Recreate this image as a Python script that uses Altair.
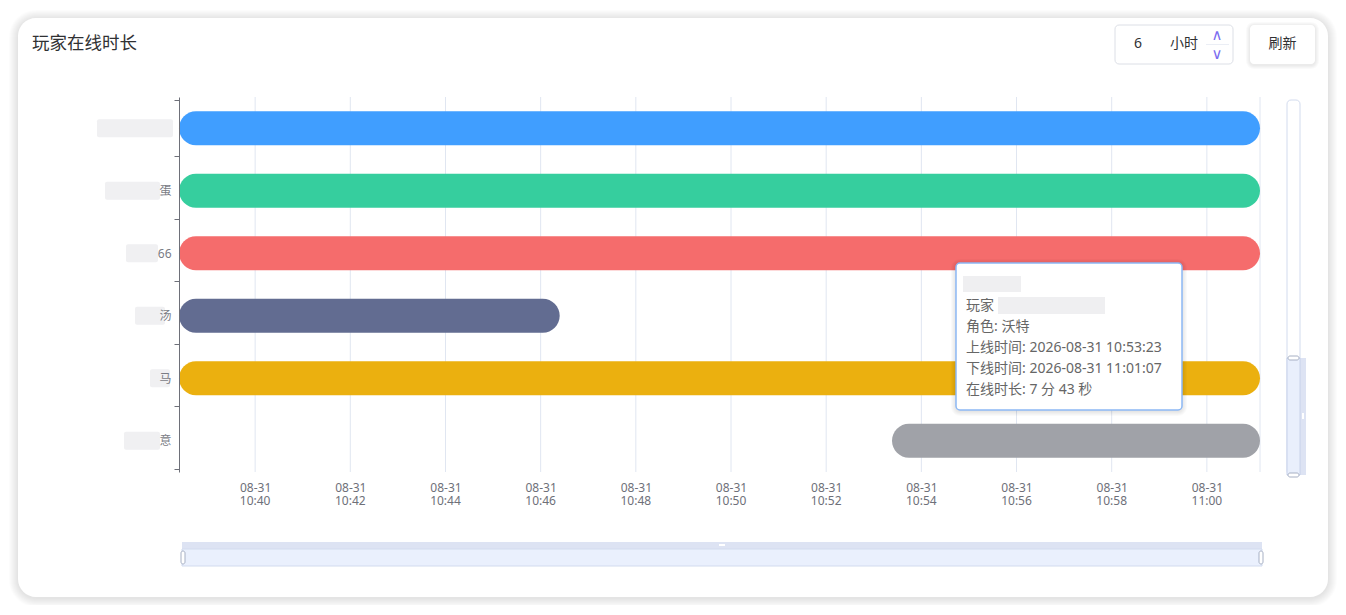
import json
import altair as alt
import pandas as pd

# ---------------- data ----------------
DAY = "2026-08-31"
players = ["p1", "p2", "p3", "p4", "p5", "p6"]
name_suffix = ["", "蛋", "66", "汤", "马", "意"]          # visible (un-blurred) part of names
starts = ["10:38:24", "10:38:24", "10:38:24", "10:38:24", "10:38:24", "10:53:23"]
ends = ["11:01:07", "11:01:07", "11:01:07", "10:46:24", "11:01:07", "11:01:07"]
colors = ["#409EFF", "#36CE9E", "#F56C6C", "#626C91", "#EBB00F", "#A0A2A8"]
tick_times = ["10:40:00", "10:42:00", "10:44:00", "10:46:00", "10:48:00", "10:50:00",
              "10:52:00", "10:54:00", "10:56:00", "10:58:00", "11:00:00"]
title_text = "玩家在线时长"
hours_value = "6"
hours_unit = "小时"
refresh_text = "刷新"
tooltip_lines = ["玩家", "角色: 沃特", "上线时间: 2026-08-31 10:53:23",
                 "下线时间: 2026-08-31 11:01:07", "在线时长: 7 分 43 秒"]

FONT = "Noto Sans, Noto Sans CJK SC"
W, H = 1081, 375


def dt(hms):
    h, m, s = [int(v) for v in hms.split(":")]
    y, mo, d = [int(v) for v in DAY.split("-")]
    return alt.DateTime(year=y, month=mo, date=d, hours=h, minutes=m, seconds=s)


df = pd.DataFrame({
    "player": players,
    "start": [f"{DAY}T{t}" for t in starts],
    "end": [f"{DAY}T{t}" for t in ends],
})
grid_df = pd.DataFrame({"t": [f"{DAY}T{t}" for t in tick_times] + [f"{DAY}T{max(ends)}"]})
tick_df = pd.DataFrame({"t": [f"{DAY}T{t}" for t in tick_times]})

x_scale = alt.Scale(domain=[dt(min(starts)), dt(max(ends))])
x_axis = alt.Axis(
    title=None, values=[dt(t) for t in tick_times], format="%m-%d",
    domain=False, ticks=False, grid=False, labelColor="#6E7079", labelFontSize=12,
    labelFont=FONT, labelPadding=10, labelOverlap=False,
    labelBaseline="top", zindex=1,
)
label_expr = "{}[indexof({}, datum.value)]".format(
    json.dumps(name_suffix, ensure_ascii=False), json.dumps(players))
y_axis = alt.Axis(
    title=None, tickBand="extent", domainColor="#6E7079", tickColor="#6E7079",
    tickSize=5, labelColor="#7A7C85", labelFontSize=12, labelFont=FONT,
    labelPadding=3, zindex=1, labelExpr=label_expr, grid=False,
)
y_enc = alt.Y("player:N", sort=players, axis=y_axis)


def one():
    return alt.Data(values=[{"k": 0}])


def rect(x0, y0, x1, y1, **style):
    return alt.Chart(one()).mark_rect(**style).encode(
        x=alt.value(x0), x2=alt.value(x1), y=alt.value(y0), y2=alt.value(y1))


def text(x, y, s, **style):
    return alt.Chart(one()).mark_text(**style).encode(
        x=alt.value(x), y=alt.value(y), text=alt.value(s))


def shadow(x0, y0, x1, y1, r, steps, op):
    return [rect(x0 - i, y0 - i + 1, x1 + i, y1 + i + 1, fill="#000000", opacity=op,
                 cornerRadius=r + i) for i in range(steps, 0, -1)]


layers = []
# card
layers += shadow(-161, -79, 1149, 500, 18, 9, 0.012)
layers.append(rect(-161, -79, 1149, 500, fill="white", cornerRadius=18))
# header
layers.append(text(-147, -53, title_text, align="left", baseline="middle", fontSize=17.5,
                   font=FONT, color="#303133"))
layers.append(rect(936, -72, 1054, -33, fill="white", stroke="#DCDFE6", strokeWidth=1,
                   cornerRadius=4))
layers.append(text(955, -53, hours_value, align="left", baseline="middle", fontSize=14,
                   font=FONT, color="#303133"))
layers.append(text(991, -53, hours_unit, align="left", baseline="middle", fontSize=14,
                   font=FONT, color="#303133"))
layers.append(rect(1027, -53, 1050, -52, fill="#EBEEF5"))
layers.append(text(1038, -62, "∧", align="center", baseline="middle", fontSize=15,
                   font="DejaVu Sans", color="#7B6CF0"))
layers.append(text(1038, -43, "∨", align="center", baseline="middle", fontSize=15,
                   font="DejaVu Sans", color="#7B6CF0"))
layers += shadow(1071, -72, 1136, -33, 4, 4, 0.02)
layers.append(rect(1071, -72, 1136, -33, fill="white", cornerRadius=4))
layers.append(text(1103.5, -53, refresh_text, align="center", baseline="middle", fontSize=14,
                   font=FONT, color="#303133"))

# grid lines
layers.append(alt.Chart(grid_df).mark_rule(color="#E0E6F1", strokeWidth=1).encode(
    x=alt.X("t:T", scale=x_scale, axis=x_axis)))

# second line of the time labels (HH:MM)
layers.append(alt.Chart(tick_df).transform_calculate(
    hm="timeFormat(toDate(datum.t), '%H:%M')"
).mark_text(baseline="middle", align="center", fontSize=12, font=FONT,
            color="#6E7079").encode(
    x=alt.X("t:T", scale=x_scale, axis=x_axis),
    y=alt.value(H + 29),
    text="hm:N",
))

# bars
layers.append(alt.Chart(df).mark_bar(height=34, cornerRadius=17).encode(
    x=alt.X("start:T", scale=x_scale, axis=x_axis),
    x2="end:T",
    y=y_enc,
    color=alt.Color("player:N", scale=alt.Scale(domain=players, range=colors), legend=None),
))

# blurred name parts (privacy blur in the original)
blur_spans = [(-82, -6), (-74, -19), (-53, -21), (-44, -14), (-29, -9), (-55, -19)]
band = H / len(players)
for i, (a, b) in enumerate(blur_spans):
    c = (i + 0.5) * band
    layers.append(rect(a, c - 9, b, c + 9, fill="#F0F0F2", cornerRadius=2))

# vertical data zoom
layers.append(rect(1108, 3, 1121, 378, fill="white", stroke="#D2DBEE", strokeWidth=1,
                   cornerRadius=4))
layers.append(rect(1121, 261, 1127, 378, fill="#DDE3F3"))
layers.append(rect(1108, 261, 1121, 378, fill="#E9EFFC", stroke="#C8D2EA", strokeWidth=1))
layers.append(rect(1109, 259, 1120, 263, fill="white", stroke="#A7B0C4", strokeWidth=1,
                   cornerRadius=2))
layers.append(rect(1109, 376, 1120, 380, fill="white", stroke="#A7B0C4", strokeWidth=1,
                   cornerRadius=2))
layers.append(rect(1123, 316, 1125, 322, fill="white"))

# horizontal data zoom
layers.append(rect(3, 445, 1083, 452, fill="#DDE3F3"))
layers.append(rect(3, 452, 1083, 469, fill="#EAF0FD", stroke="#D2DBEE", strokeWidth=1))
layers.append(rect(2, 454, 6, 467, fill="white", stroke="#A7B0C4", strokeWidth=1,
                   cornerRadius=2))
layers.append(rect(1080, 454, 1084, 467, fill="white", stroke="#A7B0C4", strokeWidth=1,
                   cornerRadius=2))
layers.append(rect(540, 447, 546, 449, fill="white"))

# tooltip
layers += shadow(777, 166, 1003, 313, 4, 5, 0.02)
layers.append(rect(777, 166, 1003, 313, fill="white", stroke="#8CB8F5", strokeWidth=1.5,
                   cornerRadius=4))
layers.append(rect(784, 179, 842, 195, fill="#EFEFF1"))
layers.append(rect(819, 200, 926, 217, fill="#EFEFF1"))
for i, line in enumerate(tooltip_lines):
    layers.append(text(787, 209 + i * 21, line, align="left", baseline="middle", fontSize=14,
                       font=FONT, color="#666666"))

chart = alt.layer(*layers).properties(
    width=W, height=H,
    padding={"left": 171, "top": 89, "right": 78, "bottom": 133},
    autosize=alt.AutoSizeParams(type="none"),
    background="white",
).configure_view(strokeWidth=0)

chart.save("out.html", embed_options={"renderer": "svg", "actions": False})
